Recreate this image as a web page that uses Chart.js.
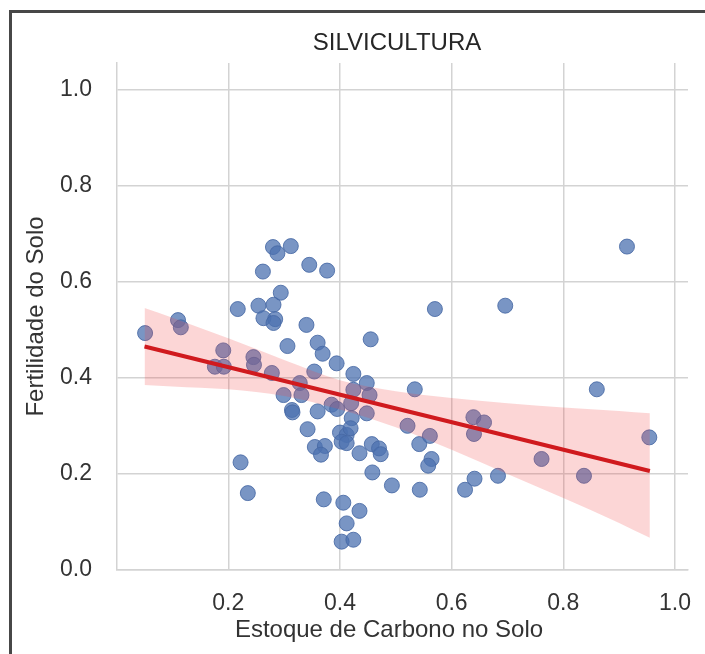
<!DOCTYPE html>
<html><head><meta charset="utf-8">
<script src="https://cdn.jsdelivr.net/npm/chart.js@4.4.0/dist/chart.umd.min.js"></script>
<style>
html,body{margin:0;padding:0;background:#fff;overflow:hidden;width:705px;height:654px;}
#wrap{position:relative;width:705px;height:654px;overflow:hidden;}
#frame{position:absolute;left:9px;top:10px;width:800px;height:800px;border-left:3px solid #474747;border-top:3px solid #474747;pointer-events:none;}
canvas{position:absolute;left:0;top:0;}
</style></head><body>
<div id="wrap"><canvas id="c" width="705" height="654"></canvas><div id="frame"></div></div>
<script>
const chartTitle = 'SILVICULTURA';
const xLabel = 'Estoque de Carbono no Solo';
const yLabel = 'Fertilidade do Solo';
const xTicks = [0.2, 0.4, 0.6, 0.8, 1.0];
const yTicks = [0.0, 0.2, 0.4, 0.6, 0.8, 1.0];

const carbon = [
  0.051, 0.110, 0.115, 0.191, 0.176, 0.192, 0.217, 0.245, 0.246, 0.254,
  0.263, 0.281, 0.294, 0.284, 0.281, 0.262, 0.280, 0.288, 0.312, 0.345,
  0.377, 0.340, 0.306, 0.278, 0.360, 0.369, 0.354, 0.394, 0.455, 0.424,
  0.448, 0.328, 0.299, 0.331, 0.314, 0.315, 0.360, 0.385, 0.395, 0.424,
  0.453, 0.421, 0.448, 0.420, 0.342, 0.400, 0.412, 0.419, 0.403, 0.412,
  0.355, 0.373, 0.366, 0.435, 0.457, 0.470, 0.473, 0.222, 0.235, 0.458,
  0.493, 0.543, 0.534, 0.521, 0.542, 0.561, 0.564, 0.558, 0.639, 0.658,
  0.640, 0.683, 0.641, 0.624, 0.371, 0.406, 0.435, 0.412, 0.403, 0.424,
  0.914, 0.570, 0.696, 0.860, 0.954, 0.761, 0.837
];
const fertility = [
  0.493, 0.520, 0.505, 0.457, 0.423, 0.423, 0.543, 0.443, 0.427, 0.550,
  0.524, 0.552, 0.577, 0.522, 0.514, 0.621, 0.672, 0.659, 0.674, 0.635,
  0.623, 0.510, 0.466, 0.410, 0.473, 0.450, 0.413, 0.430, 0.480, 0.408,
  0.389, 0.389, 0.364, 0.364, 0.333, 0.328, 0.330, 0.344, 0.335, 0.375,
  0.364, 0.316, 0.326, 0.347, 0.293, 0.286, 0.281, 0.295, 0.267, 0.264,
  0.256, 0.258, 0.240, 0.243, 0.262, 0.253, 0.241, 0.224, 0.160, 0.203,
  0.176, 0.167, 0.376, 0.300, 0.262, 0.279, 0.231, 0.217, 0.318, 0.307,
  0.283, 0.196, 0.190, 0.167, 0.147, 0.140, 0.123, 0.097, 0.059, 0.063,
  0.673, 0.543, 0.550, 0.376, 0.276, 0.231, 0.196
];

const fitX = [0.05, 0.955];
const fitY = [0.465, 0.206];

const bandX     = [0.05, 0.1, 0.2, 0.3, 0.4, 0.5, 0.6, 0.7, 0.8, 0.9, 0.955];
const bandUpper = [0.545, 0.525, 0.482, 0.437, 0.395, 0.372, 0.358, 0.347, 0.338, 0.331, 0.326];
const bandLower = [0.385, 0.382, 0.376, 0.362, 0.334, 0.297, 0.250, 0.200, 0.150, 0.098, 0.067];

const FONT = "'Liberation Sans', Arial, sans-serif";
Chart.defaults.font.family = FONT;

const pts = carbon.map((x, i) => ({x: x, y: fertility[i]}));
const fitPts = fitX.map((x, i) => ({x: x, y: fitY[i]}));
const upPts = bandX.map((x, i) => ({x: x, y: bandUpper[i]}));
const loPts = bandX.map((x, i) => ({x: x, y: bandLower[i]}));

const gridColor = '#d3d3d3';

// Title and x-axis label drawn as canvas text at their reference positions
const textPlugin = {
  id: 'texts',
  afterDraw(chart) {
    const ctx = chart.ctx;
    ctx.save();
    ctx.textAlign = 'center';
    ctx.textBaseline = 'middle';
    ctx.fillStyle = '#262626';
    ctx.font = '24px ' + FONT;
    ctx.fillText(chartTitle, 397, 43);
    ctx.fillStyle = '#333';
    ctx.fillText(xLabel, 389, 630);
    ctx.restore();
  }
};

new Chart(document.getElementById('c'), {
  type: 'scatter',
  data: {
    datasets: [
      { type: 'line', label: 'fit', data: fitPts, borderColor: 'rgb(208,26,30)', borderWidth: 4,
        pointRadius: 0, fill: false, order: 0, borderCapStyle: 'butt' },
      { type: 'line', label: 'ci_upper', data: upPts, borderColor: 'rgba(0,0,0,0)', borderWidth: 0,
        pointRadius: 0, fill: '+1', backgroundColor: 'rgba(240,70,70,0.22)', order: 1,
        cubicInterpolationMode: 'monotone' },
      { type: 'line', label: 'ci_lower', data: loPts, borderColor: 'rgba(0,0,0,0)', borderWidth: 0,
        pointRadius: 0, fill: false, order: 1, cubicInterpolationMode: 'monotone' },
      { label: 'points', data: pts, pointRadius: 7.5, pointHoverRadius: 7.5,
        backgroundColor: 'rgba(76,114,176,0.75)', borderColor: 'rgba(70,105,165,0.85)', borderWidth: 1, order: 2 }
    ]
  },
  plugins: [textPlugin],
  options: {
    responsive: false,
    animation: false,
    devicePixelRatio: 1,
    layout: { padding: { left: 0, right: 17, top: 63, bottom: 0 } },
    plugins: {
      legend: { display: false },
      tooltip: { enabled: false },
      title: { display: false }
    },
    scales: {
      x: {
        type: 'linear', min: 0.0007, max: 1.0233,
        afterBuildTicks: s => { s.ticks = xTicks.map(v => ({value: v})); },
        afterFit: s => { s.height = 84; },
        grid: { color: gridColor, lineWidth: 1.5, drawTicks: true, tickLength: 20, tickColor: 'rgba(0,0,0,0)' },
        border: { display: true, color: gridColor, width: 1.5 },
        ticks: { padding: 0, color: '#333', font: { size: 23 }, maxRotation: 0, autoSkip: false,
          callback: v => Number(v).toFixed(1) },
        title: { display: false }
      },
      y: {
        type: 'linear', min: 0, max: 1.055,
        afterBuildTicks: s => { s.ticks = yTicks.map(v => ({value: v})); },
        afterFit: s => { s.width = 117; },
        grid: { color: gridColor, lineWidth: 1.5, drawTicks: true, tickLength: 25, tickColor: 'rgba(0,0,0,0)' },
        border: { display: true, color: gridColor, width: 1.5 },
        ticks: { padding: 0, color: '#333', font: { size: 23 }, autoSkip: false,
          callback: v => Number(v).toFixed(1) },
        title: { display: true, text: yLabel, color: '#333', font: { size: 24 }, padding: { top: 21.6, bottom: 0 } }
      }
    }
  }
});
</script>
</body></html>
